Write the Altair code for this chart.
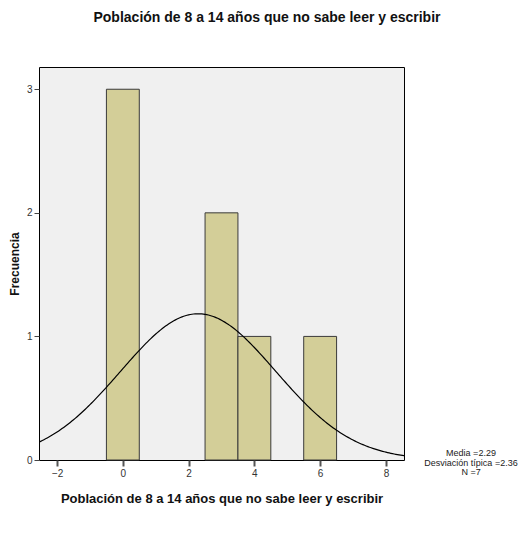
import altair as alt
import pandas as pd

# ---- data ----
bin_centers = [0, 3, 4, 6]
counts = [3, 2, 1, 1]
x_ticks = [-2, 0, 2, 4, 6, 8]
y_ticks = [0, 1, 2, 3]
mean_val = 2.29
sd_val = 2.36
n_val = 7
bin_width = 1
x_domain = [-2.55, 8.55]
y_domain = [0, 3.18]
title_text = "Población de 8 a 14 años que no sabe leer y escribir"
y_title = "Frecuencia"
stats_lines = ["Media =2.29", "Desviación típica =2.36", "N =7"]

FONT = "Liberation Sans"

bars_df = pd.DataFrame({"center": bin_centers, "count": counts})
x_scale = alt.Scale(domain=x_domain, nice=False, zero=False)
y_scale = alt.Scale(domain=y_domain, nice=False)

bars = (
    alt.Chart(bars_df)
    .transform_calculate(lo=f"datum.center - {bin_width}/2", hi=f"datum.center + {bin_width}/2")
    .mark_rect(fill="#D3CE98", stroke="#3a3a3a", strokeWidth=1)
    .encode(
        x=alt.X("lo:Q", scale=x_scale,
                axis=alt.Axis(values=x_ticks, format="d", title=title_text, grid=False, domain=False,
                              tickColor="#555555", tickWidth=2, tickSize=6,
                              labelFont=FONT, labelFontSize=10, labelColor="#333333",
                              labelPadding=2, titleFont=FONT, titleFontSize=13,
                              titleFontWeight="bold", titleColor="#111111", titlePadding=14)),
        x2="hi:Q",
        y=alt.Y("count:Q", scale=y_scale,
                axis=alt.Axis(values=y_ticks, format="d", title=y_title, grid=False, domain=False,
                              tickColor="#444444", tickWidth=1, tickSize=5,
                              labelFont=FONT, labelFontSize=10, labelColor="#333333",
                              labelPadding=2, titleFont=FONT, titleFontSize=12,
                              titleFontWeight="bold", titleColor="#111111", titlePadding=5)),
        y2=alt.datum(0),
    )
)

curve = (
    alt.Chart(alt.sequence(x_domain[0], x_domain[1] + 0.01, 0.05, as_="x"))
    .transform_calculate(
        y=f"{n_val}*{bin_width}*exp(-0.5*pow((datum.x-{mean_val})/{sd_val},2))/({sd_val}*sqrt(2*PI))"
    )
    .mark_line(color="black", strokeWidth=1.2, clip=True)
    .encode(x=alt.X("x:Q", scale=x_scale), y=alt.Y("y:Q", scale=y_scale))
)

title_mark = (
    alt.Chart(pd.DataFrame({"t": [title_text]}))
    .mark_text(font=FONT, fontSize=14, fontWeight="bold", color="#111111", align="center", baseline="middle")
    .encode(x=alt.value(228), y=alt.value(-49), text="t:N")
)

stats_mark = (
    alt.Chart(pd.DataFrame({"t": ["\n".join(stats_lines)]}))
    .mark_text(font=FONT, fontSize=9, color="#222222", align="center", baseline="middle",
               lineBreak="\n", lineHeight=9.5)
    .encode(x=alt.value(432), y=alt.value(386), text="t:N")
)

chart = (
    alt.layer(bars, curve, title_mark, stats_mark)
    .properties(width=365, height=393,
                background="white",
                autosize=alt.AutoSizeParams(type="none"),
                padding={"left": 31, "top": 59, "right": 117, "bottom": 60})
    .configure_view(fill="#F0F0F0", stroke="black", strokeWidth=1)
)

chart.save("out.html", embed_options={"renderer": "svg", "actions": False})
